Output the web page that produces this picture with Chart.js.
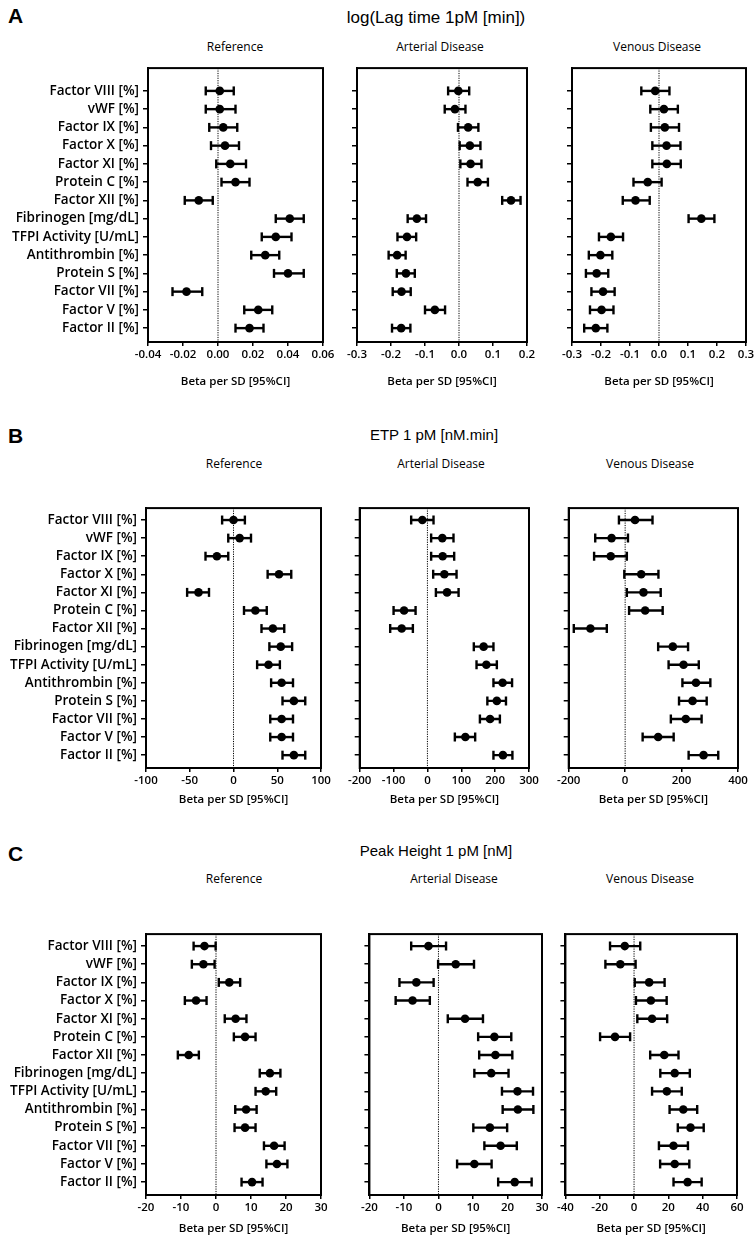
<!DOCTYPE html>
<html>
<head>
<meta charset="utf-8">
<script src="https://cdn.jsdelivr.net/npm/chart.js@4.4.1/dist/chart.umd.min.js"></script>
<style>
  body { margin:0; background:#fff; width:754px; height:1241px; position:relative; overflow:hidden; }
  canvas { position:absolute; }
  .txt { position:absolute; color:#000; white-space:nowrap; transform:translate(-50%,-50%); }
  .letter { font-family:"Liberation Sans",Arial,sans-serif; font-weight:bold; font-size:21px; transform:none; }
  .sect { font-family:"Liberation Sans",Arial,sans-serif; font-size:15px; }
  .big { font-size:17px; }
  .ptitle { font-family:"Open Sans",sans-serif; font-size:12px; }
</style>
</head>
<body>
<script>
var factors = ['Factor VIII [%]','vWF [%]','Factor IX [%]','Factor X [%]','Factor XI [%]','Protein C [%]',
  'Factor XII [%]','Fibrinogen [mg/dL]','TFPI Activity [U/mL]','Antithrombin [%]','Protein S [%]',
  'Factor VII [%]','Factor V [%]','Factor II [%]'];

// A - log(Lag time)
var lagRefEst = [0.001, 0.001, 0.003, 0.004, 0.007, 0.010, -0.011, 0.041, 0.033, 0.027, 0.040, -0.018, 0.023, 0.018];
var lagRefLo  = [-0.007, -0.007, -0.005, -0.004, -0.001, 0.002, -0.019, 0.033, 0.025, 0.019, 0.032, -0.026, 0.015, 0.010];
var lagRefHi  = [0.009, 0.010, 0.011, 0.012, 0.016, 0.018, -0.003, 0.049, 0.042, 0.035, 0.049, -0.009, 0.031, 0.026];
var lagArtEst = [-0.002, -0.012, 0.027, 0.032, 0.034, 0.055, 0.153, -0.124, -0.153, -0.182, -0.156, -0.169, -0.071, -0.170];
var lagArtLo  = [-0.032, -0.042, -0.003, 0.002, 0.004, 0.025, 0.127, -0.151, -0.181, -0.207, -0.183, -0.195, -0.100, -0.197];
var lagArtHi  = [0.030, 0.019, 0.057, 0.063, 0.066, 0.085, 0.181, -0.097, -0.126, -0.157, -0.130, -0.142, -0.041, -0.143];
var lagVenEst = [-0.013, 0.017, 0.020, 0.026, 0.027, -0.039, -0.081, 0.146, -0.166, -0.202, -0.215, -0.193, -0.198, -0.218];
var lagVenLo  = [-0.061, -0.030, -0.028, -0.023, -0.023, -0.088, -0.125, 0.102, -0.207, -0.242, -0.252, -0.233, -0.238, -0.258];
var lagVenHi  = [0.036, 0.065, 0.069, 0.074, 0.075, 0.009, -0.032, 0.191, -0.124, -0.161, -0.175, -0.153, -0.157, -0.178];

// B - ETP
var etpRefEst = [0, 7, -19, 52, -40, 25, 45, 54, 40, 55, 69, 55, 55, 69];
var etpRefLo  = [-13, -6, -32, 39, -53, 12, 32, 41, 27, 43, 56, 42, 42, 56];
var etpRefHi  = [13, 20, -6, 66, -28, 38, 58, 67, 53, 68, 82, 68, 68, 82];
var etpArtEst = [-15, 44, 45, 50, 58, -69, -76, 166, 174, 222, 205, 185, 112, 223];
var etpArtLo  = [-48, 11, 11, 17, 25, -100, -110, 137, 145, 195, 177, 155, 81, 195];
var etpArtHi  = [18, 77, 79, 86, 92, -35, -43, 195, 205, 250, 232, 214, 141, 251];
var etpVenEst = [35, -48, -51, 57, 65, 71, -123, 169, 207, 251, 239, 215, 117, 278];
var etpVenLo  = [-22, -106, -110, -3, 6, 14, -182, 117, 154, 203, 191, 162, 62, 225];
var etpVenHi  = [97, 10, 6, 118, 126, 133, -65, 223, 261, 302, 289, 271, 172, 330];

// C - Peak height
var peakRefEst = [-3.3, -3.6, 3.8, -5.7, 5.6, 8.3, -7.8, 15.4, 14.2, 8.6, 8.3, 16.6, 17.4, 10.3];
var peakRefLo  = [-6.4, -6.9, 0.8, -8.9, 2.5, 5.1, -10.9, 12.5, 11.3, 5.5, 5.3, 13.7, 14.4, 7.3];
var peakRefHi  = [-0.1, -0.4, 6.9, -2.7, 8.7, 11.3, -4.9, 18.4, 17.2, 11.6, 11.3, 19.6, 20.4, 13.3];
var peakArtEst = [-2.9, 5.0, -6.4, -7.5, 7.7, 16.2, 16.5, 15.3, 22.9, 23.0, 14.9, 18.0, 10.4, 22.1];
var peakArtLo  = [-7.9, -0.1, -11.3, -12.4, 2.7, 11.5, 11.8, 10.4, 18.4, 18.6, 10.1, 13.3, 5.4, 17.3];
var peakArtHi  = [2.2, 10.3, -1.4, -2.5, 12.9, 21.1, 21.4, 20.3, 27.4, 27.5, 19.9, 22.7, 15.4, 27.0];
var peakVenEst = [-5.4, -8.0, 8.8, 9.8, 10.5, -11.1, 17.6, 23.7, 19.1, 28.7, 32.9, 23.0, 23.7, 31.2];
var peakVenLo  = [-14.0, -16.7, 0.4, 1.1, 1.9, -19.8, 9.4, 15.3, 10.5, 20.7, 25.5, 14.5, 15.2, 23.0];
var peakVenHi  = [3.6, 0.9, 17.8, 19.0, 19.3, -2.3, 25.9, 32.5, 27.8, 36.8, 40.6, 31.4, 32.2, 39.4];

// x tick labels
var lagRefTicks = [-0.04, -0.02, 0.00, 0.02, 0.04, 0.06];
var lagArtTicks = [-0.3, -0.2, -0.1, 0.0, 0.1, 0.2];
var lagVenTicks = [-0.3, -0.2, -0.1, 0.0, 0.1, 0.2, 0.3];
var etpRefTicks = [-100, -50, 0, 50, 100];
var etpArtTicks = [-200, -100, 0, 100, 200, 300];
var etpVenTicks = [-200, 0, 200, 400];
var peakRefTicks = [-20, -10, 0, 10, 20, 30];
var peakArtTicks = [-20, -10, 0, 10, 20, 30];
var peakVenTicks = [-40, -20, 0, 20, 40, 60];

var rowFont = { family: 'Open Sans', size: 13.5, weight: '600' };
var axFont = { family: 'Open Sans', size: 11.5, weight: '600' };

function addText(cls, text, x, y) {
  var d = document.createElement('div');
  d.className = 'txt ' + cls;
  d.textContent = text;
  d.style.left = x + 'px';
  d.style.top = y + 'px';
  document.body.appendChild(d);
}

var framePlugin = {
  id: 'frame',
  afterDraw: function(chart) {
    var a = chart.chartArea, ctx = chart.ctx;
    ctx.save();
    ctx.strokeStyle = '#000';
    ctx.lineWidth = 2;
    ctx.strokeRect(a.left, a.top, a.right - a.left, a.bottom - a.top);
    ctx.restore();
  }
};

function panel(p) {
  var yw = p.labels ? p.L : 8;
  var topPad = 10, rightPad = 20;
  var cv = document.createElement('canvas');
  var w = yw + (p.R - p.L) + rightPad;
  var h = topPad + (p.B - p.T) + p.bottomPad;
  cv.width = w; cv.height = h;
  cv.style.left = (p.L - yw) + 'px';
  cv.style.top = (p.T - topPad) + 'px';
  cv.style.width = w + 'px'; cv.style.height = h + 'px';
  document.body.appendChild(cv);

  var ds = [];
  ds.push({
    data: p.est.map(function(v, i) { return { x: v, y: i }; }),
    pointStyle: 'circle', pointRadius: 4.3, backgroundColor: '#000', borderColor: '#000', borderWidth: 0
  });
  for (var i = 0; i < p.est.length; i++) {
    ds.push({
      data: [{ x: p.lo[i], y: i }, { x: p.hi[i], y: i }],
      showLine: true, borderColor: '#000', borderWidth: 2.4,
      pointStyle: 'line', rotation: 90, pointRadius: 4.5, pointBorderWidth: 2.4, pointBorderColor: '#000'
    });
  }
  ds.push({
    data: [{ x: 0, y: p.yMin }, { x: 0, y: p.yMax }],
    showLine: true, borderColor: '#000', borderWidth: 1, borderDash: [1.2, 1.2], pointRadius: 0
  });

  new Chart(cv, {
    type: 'scatter',
    data: { datasets: ds },
    options: {
      responsive: false,
      animation: false,
      events: [],
      layout: { padding: { top: topPad, right: rightPad, left: 0, bottom: 0 } },
      plugins: { legend: { display: false }, tooltip: { enabled: false } },
      scales: {
        x: {
          type: 'linear', min: p.ticks[0], max: p.xMax,
          afterBuildTicks: function(s) { s.ticks = p.ticks.map(function(v) { return { value: v }; }); },
          afterFit: function(s) { s.height = p.bottomPad; },
          ticks: {
            autoSkip: false, maxRotation: 0, color: '#000', font: axFont, padding: 2,
            callback: function(v) { return v.toFixed(p.dec); }
          },
          grid: { drawOnChartArea: false, drawTicks: true, tickLength: 4, color: '#000', lineWidth: 1.5 },
          border: { display: true, color: '#000', width: 2 },
          title: { display: true, text: 'Beta per SD [95%CI]', color: '#000', font: axFont, padding: { top: 0, bottom: 1 } }
        },
        y: {
          type: 'linear', reverse: true, min: p.yMin, max: p.yMax,
          afterBuildTicks: function(s) { s.ticks = factors.map(function(f, i) { return { value: i }; }); },
          afterFit: function(s) { s.width = yw; },
          ticks: {
            autoSkip: false, color: '#000', font: rowFont, padding: 4,
            callback: function(v, idx) { return p.labels ? factors[idx] : ''; }
          },
          grid: { drawOnChartArea: false, drawTicks: true, tickLength: 5, color: '#000', lineWidth: 1.5 },
          border: { display: true, color: '#000', width: 2 }
        }
      }
    },
    plugins: [framePlugin]
  });
}

// section A
addText('letter', 'A', 8, 4);
addText('sect big', 'log(Lag time 1pM [min])', 436, 18);
addText('ptitle', 'Reference', 235, 46);
addText('ptitle', 'Arterial Disease', 440, 46);
addText('ptitle', 'Venous Disease', 657, 46);
var secA = { T: 66, B: 342, yMin: -1.25, yMax: 13.76, bottomPad: 48, dec: 2 };
panel(Object.assign({}, secA, { L: 148, R: 323, labels: true, est: lagRefEst, lo: lagRefLo, hi: lagRefHi, ticks: lagRefTicks, xMax: 0.06, dec: 2 }));
panel(Object.assign({}, secA, { L: 353, R: 527, est: lagArtEst, lo: lagArtLo, hi: lagArtHi, ticks: lagArtTicks, xMax: 0.2, dec: 1 }));
panel(Object.assign({}, secA, { L: 568, R: 746, est: lagVenEst, lo: lagVenLo, hi: lagVenHi, ticks: lagVenTicks, xMax: 0.3, dec: 1 }));

// section B
addText('letter', 'B', 8, 424);
addText('sect', 'ETP 1 pM [nM.min]', 434, 434);
addText('ptitle', 'Reference', 234, 463);
addText('ptitle', 'Arterial Disease', 441, 463);
addText('ptitle', 'Venous Disease', 650, 463);
var secB = { T: 506, B: 768, yMin: -0.66, yMax: 13.71, bottomPad: 40, dec: 0 };
panel(Object.assign({}, secB, { L: 146, R: 321, labels: true, est: etpRefEst, lo: etpRefLo, hi: etpRefHi, ticks: etpRefTicks, xMax: 100 }));
panel(Object.assign({}, secB, { L: 354, R: 529, est: etpArtEst, lo: etpArtLo, hi: etpArtHi, ticks: etpArtTicks, xMax: 300 }));
panel(Object.assign({}, secB, { L: 563, R: 738, est: etpVenEst, lo: etpVenLo, hi: etpVenHi, ticks: etpVenTicks, xMax: 400 }));

// section C
addText('letter', 'C', 8, 842);
addText('sect', 'Peak Height 1 pM [nM]', 436, 850);
addText('ptitle', 'Reference', 234, 878);
addText('ptitle', 'Arterial Disease', 454, 878);
addText('ptitle', 'Venous Disease', 650, 878);
var secC = { T: 932, B: 1195, yMin: -0.66, yMax: 13.71, bottomPad: 42, dec: 0 };
panel(Object.assign({}, secC, { L: 146, R: 321, labels: true, est: peakRefEst, lo: peakRefLo, hi: peakRefHi, ticks: peakRefTicks, xMax: 30 }));
panel(Object.assign({}, secC, { L: 367, R: 542, est: peakArtEst, lo: peakArtLo, hi: peakArtHi, ticks: peakArtTicks, xMax: 30 }));
panel(Object.assign({}, secC, { L: 563, R: 737, est: peakVenEst, lo: peakVenLo, hi: peakVenHi, ticks: peakVenTicks, xMax: 60 }));
</script>
</body>
</html>
